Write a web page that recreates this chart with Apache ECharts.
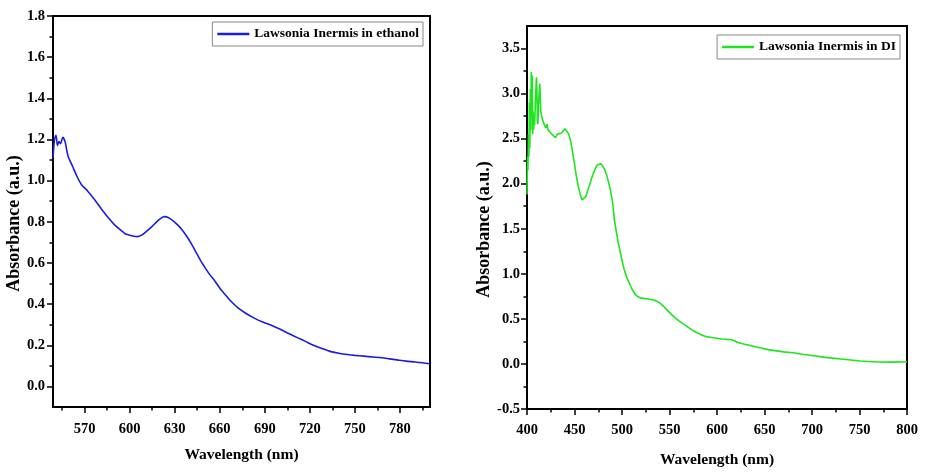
<!DOCTYPE html>
<html>
<head>
<meta charset="utf-8">
<script src="https://cdn.jsdelivr.net/npm/echarts@6/dist/echarts.min.js"></script>
<style>
  html, body { margin: 0; padding: 0; background: #fff; }
  #main { width: 925px; height: 473px; }
</style>
</head>
<body>
<div id="main"></div>
<script>
// left panel: ethanol
let ethWave = [549, 550, 551, 552, 553, 554, 555.5, 557, 559, 562, 565, 568, 572, 577, 581, 586, 590, 594, 597, 600, 603, 605, 608, 611, 615, 618, 621, 623, 626, 629, 632, 635, 638, 641, 644, 647, 650, 653, 657, 660, 664, 668, 672, 677, 683, 689, 695, 700, 706, 712, 717, 722, 728, 734, 740, 745, 750, 756, 762, 768, 773, 778, 784, 790, 795, 800];
let ethAbs = [1.11, 1.20, 1.22, 1.17, 1.19, 1.18, 1.21, 1.19, 1.12, 1.07, 1.02, 0.98, 0.95, 0.905, 0.865, 0.818, 0.785, 0.76, 0.742, 0.735, 0.73, 0.728, 0.735, 0.752, 0.778, 0.80, 0.818, 0.825, 0.82, 0.805, 0.785, 0.76, 0.73, 0.695, 0.655, 0.615, 0.58, 0.547, 0.51, 0.478, 0.443, 0.41, 0.383, 0.357, 0.332, 0.312, 0.295, 0.279, 0.257, 0.236, 0.219, 0.201, 0.184, 0.169, 0.16, 0.155, 0.151, 0.147, 0.143, 0.139, 0.134, 0.129, 0.123, 0.119, 0.115, 0.11];

// right panel: DI water
let diWave = [400, 400.5, 401, 401.5, 402, 402.5, 403, 403.5, 404, 404.5, 405, 405.5, 406, 406.5, 407, 407.5, 408, 409, 410, 410.5, 411, 411.5, 412, 413, 413.5, 414, 414.5, 415, 416, 417, 418, 419, 420, 421, 422, 423, 424, 426, 428, 430, 431, 432, 434, 436, 438, 440, 442, 444, 446, 448, 450, 452, 454, 456, 458, 460, 462, 464, 466, 468, 470, 472, 474, 476, 478, 480, 482, 484, 486, 488, 490, 492, 494, 496, 498, 500, 502, 505, 508, 511, 514, 517, 520, 524, 528, 532, 536, 540, 544, 548, 552, 556, 560, 564, 568, 572, 576, 580, 585, 590, 596, 605, 610, 615, 618, 622, 628, 635, 645, 655, 663, 670, 680, 690, 700, 716, 733, 751, 768, 786, 800];
let diAbs = [1.88, 2.3, 2.15, 2.55, 2.3, 2.9, 2.4, 3.05, 2.6, 3.24, 2.75, 3.2, 2.55, 2.8, 2.6, 2.75, 2.65, 2.95, 3.18, 3.0, 2.7, 2.66, 2.85, 3.05, 3.11, 2.95, 2.8, 2.78, 2.72, 2.74, 2.66, 2.68, 2.62, 2.66, 2.6, 2.62, 2.58, 2.55, 2.57, 2.51, 2.49, 2.55, 2.57, 2.56, 2.58, 2.61, 2.6, 2.55, 2.47, 2.35, 2.22, 2.08, 1.97, 1.88, 1.82, 1.82, 1.86, 1.93, 1.99, 2.06, 2.12, 2.17, 2.21, 2.23, 2.22, 2.19, 2.15, 2.09, 2.01, 1.92, 1.8, 1.6, 1.47, 1.35, 1.25, 1.15, 1.06, 0.96, 0.89, 0.82, 0.77, 0.745, 0.73, 0.725, 0.72, 0.712, 0.70, 0.675, 0.637, 0.592, 0.55, 0.512, 0.478, 0.447, 0.42, 0.39, 0.362, 0.34, 0.316, 0.30, 0.29, 0.277, 0.273, 0.27, 0.257, 0.237, 0.221, 0.205, 0.18, 0.156, 0.145, 0.134, 0.125, 0.108, 0.093, 0.07, 0.052, 0.033, 0.022, 0.02, 0.025];

// tick labels
let ethXLabels = [570, 600, 630, 660, 690, 720, 750, 780];
let ethXMinor = [555, 585, 615, 645, 675, 705, 735, 765, 795];
let ethYLabels = [0, 0.2, 0.4, 0.6, 0.8, 1.0, 1.2, 1.4, 1.6, 1.8];
let ethYMinor = [0.1, 0.3, 0.5, 0.7, 0.9, 1.1, 1.3, 1.5, 1.7];
let diXLabels = [400, 450, 500, 550, 600, 650, 700, 750, 800];
let diXMinor = [425, 475, 525, 575, 625, 675, 725, 775];
let diYLabels = [-0.5, 0, 0.5, 1.0, 1.5, 2.0, 2.5, 3.0, 3.5];
let diYMinor = [-0.25, 0.25, 0.75, 1.25, 1.75, 2.25, 2.75, 3.25];

let font = 'Liberation Serif';
let tickFont = {color: '#000', fontFamily: font, fontWeight: 'bold', fontSize: 14.5};

function majorAxis(grid, min, max, labels, margin, fmt) {
    return {
        type: 'value', gridIndex: grid, min: min, max: max,
        splitLine: {show: false},
        axisLine: {show: true, onZero: false, lineStyle: {color: '#000', width: 2}},
        axisTick: {show: true, inside: false, length: 6, customValues: labels, lineStyle: {color: '#000', width: 1.5}},
        axisLabel: Object.assign({customValues: labels, margin: margin, formatter: fmt}, tickFont)
    };
}
function minorAxis(grid, min, max, ticks, pos) {
    return {
        type: 'value', gridIndex: grid, min: min, max: max, position: pos,
        splitLine: {show: false},
        axisLine: {show: false, onZero: false},
        axisTick: {show: true, inside: false, length: 3.5, customValues: ticks, lineStyle: {color: '#000', width: 1.5}},
        axisLabel: {show: false}
    };
}
let oneDec = v => v.toFixed(1);
let intFmt = v => String(v);

let xName = {fontFamily: font, fontWeight: 'bold', fontSize: 15.5, color: '#000'};
let yName = {fontFamily: font, fontWeight: 'bold', fontSize: 18, color: '#000', padding: [0, 24, 0, 0]};

let xa0 = majorAxis(0, 549, 800, ethXLabels, 15, intFmt);
xa0.position = 'bottom';
xa0.name = 'Wavelength (nm)'; xa0.nameLocation = 'middle'; xa0.nameGap = 40; xa0.nameTextStyle = xName;
let xa1 = majorAxis(1, 400, 800, diXLabels, 14, intFmt);
xa1.position = 'bottom';
xa1.name = 'Wavelength (nm)'; xa1.nameLocation = 'middle'; xa1.nameGap = 43; xa1.nameTextStyle = xName;

let ya0 = majorAxis(0, -0.1, 1.8, ethYLabels, 8, oneDec);
ya0.position = 'left';
ya0.name = 'Absorbance (a.u.)'; ya0.nameLocation = 'middle'; ya0.nameGap = 30; ya0.nameTextStyle = yName;
let ya1 = majorAxis(1, -0.5, 3.75, diYLabels, 7, oneDec);
ya1.position = 'left';
ya1.name = 'Absorbance (a.u.)'; ya1.nameLocation = 'middle'; ya1.nameGap = 30; ya1.nameTextStyle = yName;

let legendText = {fontFamily: font, fontWeight: 'bold', fontSize: 13.5, color: '#000'};

let chart = echarts.init(document.getElementById('main'));
chart.setOption({
    animation: false,
    backgroundColor: '#fff',
    grid: [
        {left: 53, top: 16, width: 377, height: 391, show: true, borderColor: '#000', borderWidth: 2},
        {left: 527, top: 26, width: 380, height: 384, show: true, borderColor: '#000', borderWidth: 2}
    ],
    xAxis: [xa0, xa1, minorAxis(0, 549, 800, ethXMinor, 'bottom'), minorAxis(1, 400, 800, diXMinor, 'bottom')],
    yAxis: [ya0, ya1, minorAxis(0, -0.1, 1.8, ethYMinor, 'left'), minorAxis(1, -0.5, 3.75, diYMinor, 'left')],
    legend: [
        {data: ['Lawsonia Inermis in ethanol'], right: 502, top: 22, padding: [5, 4, 5, 5],
         borderColor: '#888', borderWidth: 1, icon: 'rect', itemWidth: 32, itemHeight: 2.5, textStyle: legendText},
        {data: ['Lawsonia Inermis in DI'], right: 25, top: 35, padding: [5, 4, 5, 5],
         borderColor: '#888', borderWidth: 1, icon: 'rect', itemWidth: 32, itemHeight: 2.5, textStyle: legendText}
    ],
    series: [
        {
            name: 'Lawsonia Inermis in ethanol', type: 'line', xAxisIndex: 0, yAxisIndex: 0,
            data: ethWave.map((w, i) => [w, ethAbs[i]]),
            showSymbol: false, smooth: 0.25, color: '#1c1ce0',
            lineStyle: {color: '#1c1ce0', width: 1.6}
        },
        {
            name: 'Lawsonia Inermis in DI', type: 'line', xAxisIndex: 1, yAxisIndex: 1,
            data: diWave.map((w, i) => [w, diAbs[i]]),
            showSymbol: false, smooth: false, color: '#1ee61e',
            lineStyle: {color: '#1ee61e', width: 1.6}
        }
    ]
});
</script>
</body>
</html>
